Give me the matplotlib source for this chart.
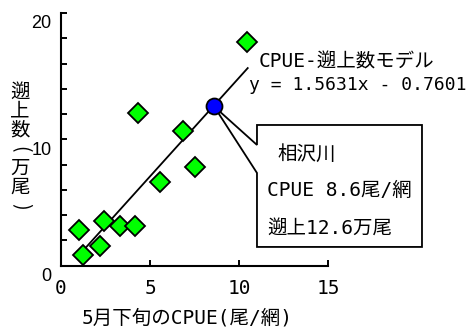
import matplotlib
matplotlib.use("Agg")
import matplotlib.pyplot as plt
from matplotlib.patches import Polygon
from matplotlib.ticker import MultipleLocator, FixedLocator
from matplotlib.transforms import ScaledTranslation

# May late-period CPUE (fish/net) and upstream run size (10,000 fish)
cpue = [1.0, 1.25, 2.2, 2.4, 3.3, 4.15, 4.3, 5.55, 6.85, 7.55, 10.45]
runs = [2.8, 0.8, 1.55, 3.55, 3.1, 3.1, 12.05, 6.65, 10.65, 7.8, 17.7]

# CPUE - run size model
slope, intercept = 1.5631, -0.7601
fit_x = [1.07, 10.49]

# Aizawa River estimate
river_cpue, river_run = 8.6, 12.6

x_ticks = [0, 5, 10, 15]
y_ticks = [0, 10, 20]

W, H = 466, 333
fig = plt.figure(figsize=(W / 100, H / 100), dpi=100)
ax = fig.add_axes([61 / W, (H - 265.5) / H, 267 / W, 252.5 / H])

MONO = ["DejaVu Sans Mono", "Noto Sans CJK JP"]
CJK = ["Noto Sans CJK JP", "DejaVu Sans"]


def px_text(x, y, s, **kw):
    """Place text using pixel coordinates measured from the top-left corner."""
    return fig.text(x / W, 1 - y / H, s, **kw)


# regression line
fit_y = [slope * v + intercept for v in fit_x]
ax.plot(fit_x, fit_y, color="black", lw=1.3, zorder=2)

# observations
ax.plot(cpue, runs, linestyle="none", marker="D", ms=9.8,
        markerfacecolor="#00ff00", markeredgecolor="black", mew=1.3,
        zorder=3, clip_on=False)

# callout box pointing to the estimate
bx_l, bx_r = 11.01, 20.28
bx_t, bx_b = 11.13, 1.47
notch_t, notch_b = 9.55, 7.33
callout = Polygon([(bx_l, bx_t), (bx_r, bx_t), (bx_r, bx_b), (bx_l, bx_b),
                   (bx_l, notch_b), (river_cpue, river_run), (bx_l, notch_t)],
                  closed=True, facecolor="white", edgecolor="black", lw=1.3,
                  clip_on=False, zorder=4, joinstyle="miter")
ax.add_patch(callout)

ax.plot([river_cpue], [river_run], linestyle="none", marker="o", ms=11.5,
        markerfacecolor="#0000ff", markeredgecolor="black", mew=1.3,
        zorder=5, clip_on=False)

ax.set_xlim(0, 15)
ax.set_ylim(0, 20)

for side in ("top", "right"):
    ax.spines[side].set_visible(False)
for side in ("left", "bottom"):
    ax.spines[side].set_linewidth(1.5)
    ax.spines[side].set_color("black")

ax.xaxis.set_major_locator(FixedLocator(x_ticks))
ax.yaxis.set_major_locator(FixedLocator(y_ticks))
ax.yaxis.set_minor_locator(MultipleLocator(2))
ax.tick_params(axis="both", which="both", direction="in", length=4.5,
               width=1.4, color="black")
ax.tick_params(axis="x", pad=10)
ax.tick_params(axis="y", pad=7)

ax.set_xticklabels([str(v) for v in x_ticks], family=MONO, fontsize=14)
ax.set_yticklabels([str(v) for v in y_ticks], family="Liberation Sans",
                   fontsize=13)
shift = ScaledTranslation(0, -9 / 100, fig.dpi_scale_trans)
for lab in ax.get_yticklabels():
    lab.set_transform(lab.get_transform() + shift)

# axis titles
px_text(187, 318, "5月下旬のCPUE(尾/網)", family=MONO, fontsize=14,
        ha="center", va="center")
# vertical y title: characters stacked, brackets turned sideways
for i, ch in enumerate("遡上数(万尾)"):
    rot = -90 if ch in "()" else 0
    px_text(20, 92 + 19 * i, ch, family=CJK, fontsize=14,
            ha="center", va="center", rotation=rot)

# model annotation
px_text(259, 62, "CPUE-遡上数モデル", family=MONO, fontsize=14,
        ha="left", va="center")
px_text(249, 85, "y = 1.5631x - 0.7601", family=MONO, fontsize=13,
        ha="left", va="center")

# callout text
px_text(277, 154, "相沢川", family=CJK, fontsize=14, ha="left", va="center",
        zorder=6)
px_text(267, 190, f"CPUE {river_cpue}尾/網", family=MONO, fontsize=14,
        ha="left", va="center", zorder=6)
px_text(267, 228, f"遡上{river_run}万尾", family=MONO, fontsize=14,
        ha="left", va="center", zorder=6)

fig.savefig("out.png", dpi=100)
